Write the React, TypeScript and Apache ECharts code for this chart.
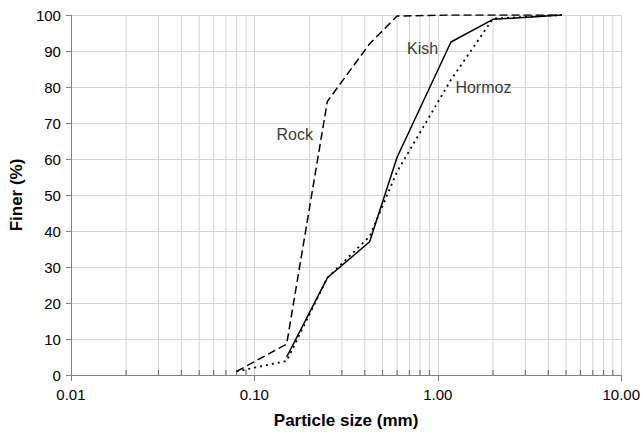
import React, { useEffect, useRef } from "react";
import * as echarts from "echarts";

const sieveSizes = [0.08, 0.15, 0.25, 0.425, 0.6, 1.18, 2.0, 4.75];
const rockValues = [1, 8.6, 76, 92, 99.7, 100, 100, 100];
const kishSizes = [0.15, 0.25, 0.425, 0.6, 1.18, 2.0, 4.75];
const kishValues = [5, 27, 37, 60.5, 92.5, 98.8, 100];
const hormozValues = [1, 3.9, 27, 38.5, 56.5, 82, 99, 100];

const minorGridValues = [
  0.02, 0.03, 0.04, 0.05, 0.06, 0.07, 0.08, 0.09,
  0.2, 0.3, 0.4, 0.5, 0.6, 0.7, 0.8, 0.9,
  2, 3, 4, 5, 6, 7, 8, 9,
];

const curveLabels: [number, number, string][] = [
  [0.132, 66.7, "Rock"],
  [0.679, 90.6, "Kish"],
  [1.247, 80, "Hormoz"],
];

const FONT = "'Liberation Sans', Arial, sans-serif";

export default function App() {
  const ref = useRef<HTMLDivElement>(null);
  useEffect(() => {
    if (!ref.current) return;
    const chart = echarts.init(ref.current, undefined, { renderer: "svg" });
    const lineBase = {
      type: "line" as const,
      symbol: "none",
      silent: true,
      z: 5,
    };
    chart.setOption({
      animation: false,
      backgroundColor: "#ffffff",
      grid: { left: 66, right: 21, top: 15, bottom: 60 },
      xAxis: {
        type: "log",
        logBase: 10,
        min: 0.01,
        max: 10,
        name: "Particle size (mm)",
        nameLocation: "middle",
        nameGap: 37,
        nameTextStyle: { fontFamily: FONT, fontSize: 17, fontWeight: "bold", color: "#000" },
        axisLine: { lineStyle: { color: "#808080", width: 1 } },
        axisTick: { show: true, inside: false, length: 6, lineStyle: { color: "#808080" } },
        axisLabel: {
          fontFamily: FONT,
          fontSize: 15,
          color: "#000",
          margin: 12,
          formatter: (v: number) => v.toFixed(2),
        },
        splitLine: { show: true, lineStyle: { color: "#d4d4d4", width: 1 } },
      },
      yAxis: {
        type: "value",
        min: 0,
        max: 100,
        interval: 10,
        name: "Finer (%)",
        nameLocation: "middle",
        nameGap: 40,
        nameTextStyle: { fontFamily: FONT, fontSize: 17, fontWeight: "bold", color: "#000" },
        axisLine: { show: true, lineStyle: { color: "#808080", width: 1 } },
        axisTick: { show: true, inside: false, length: 5, lineStyle: { color: "#808080" } },
        axisLabel: { fontFamily: FONT, fontSize: 15, color: "#000", margin: 10 },
        splitLine: { show: true, lineStyle: { color: "#d4d4d4", width: 1 } },
      },
      series: [
        {
          type: "custom",
          silent: true,
          z: 1,
          clip: false,
          data: minorGridValues.map((v) => [v, 0]),
          encode: { x: 0, y: 1 },
          renderItem: (params: any, api: any) => {
            const bottom = api.coord([api.value(0), 0]);
            const top = api.coord([api.value(0), 100]);
            return {
              type: "group",
              children: [
                {
                  type: "line",
                  shape: { x1: bottom[0], y1: bottom[1], x2: top[0], y2: top[1] },
                  style: { stroke: "#d4d4d4", lineWidth: 1 },
                },
                {
                  type: "line",
                  shape: { x1: bottom[0], y1: bottom[1], x2: bottom[0], y2: bottom[1] - 5 },
                  style: { stroke: "#606060", lineWidth: 1 },
                },
              ],
            };
          },
        },
        {
          ...lineBase,
          name: "Rock",
          data: sieveSizes.map((s, i) => [s, rockValues[i]]),
          lineStyle: { color: "#000", width: 1.5, type: [8, 4] },
        },
        {
          ...lineBase,
          name: "Kish",
          data: kishSizes.map((s, i) => [s, kishValues[i]]),
          lineStyle: { color: "#000", width: 1.5, type: "solid" },
        },
        {
          ...lineBase,
          name: "Hormoz",
          data: sieveSizes.map((s, i) => [s, hormozValues[i]]),
          lineStyle: { color: "#000", width: 1.8, type: [2, 4] },
        },
        {
          type: "scatter",
          silent: true,
          symbolSize: 0,
          z: 6,
          data: curveLabels,
          label: {
            show: true,
            position: "inside",
            align: "left",
            verticalAlign: "middle",
            fontFamily: FONT,
            fontSize: 16,
            color: "#000",
            textBorderWidth: 0,
            textBorderColor: "transparent",
            formatter: (p: any) => p.value[2],
          },
        },
      ],
    });
    return () => chart.dispose();
  }, []);
  return (
    <div
      ref={ref}
      style={{ position: "fixed", left: 0, top: 0, width: 643, height: 435, background: "#fff" }}
    />
  );
}
